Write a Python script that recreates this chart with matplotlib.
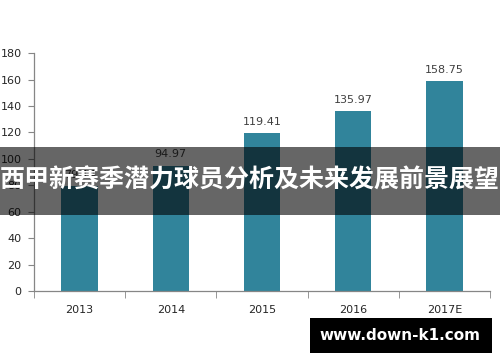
import numpy as np
import matplotlib
matplotlib.use('Agg')
import matplotlib.pyplot as plt
from matplotlib.patches import Rectangle

# data
years = ['2013', '2014', '2015', '2016', '2017E']
values = [79.14, 94.97, 119.41, 135.97, 158.75]
yticks = list(range(0, 181, 20))
title_text = '西甲新赛季潜力球员分析及未来发展前景展望'
watermark = 'www.down-k1.com'

bar_color = '#31849b'
axis_color = '#868686'

fig = plt.figure(figsize=(5, 3.62), dpi=100)
ax = fig.add_axes([0.068, 0.196, 0.912, 0.657])

x = np.arange(len(years))
ax.bar(x, values, width=0.4, color=bar_color, zorder=2)
for xi, v in zip(x, values):
    ax.text(xi, v + 5, f'{v:.2f}', ha='center', va='bottom', fontsize=8, color='#404040')

ax.set_xlim(-0.5, 4.5)
ax.set_ylim(0, 180)
ax.set_yticks(yticks)
ax.set_xticks(x)
ax.set_xticklabels(years)
ax.set_xticks(np.arange(-0.5, 5, 1), minor=True)
ax.tick_params(axis='x', which='major', length=0, pad=10, labelsize=8, labelcolor='#262626')
ax.tick_params(axis='x', which='minor', length=5, color=axis_color, direction='out')
ax.tick_params(axis='y', length=4, color=axis_color, labelsize=8, labelcolor='#262626', pad=5)

for side in ['top', 'right']:
    ax.spines[side].set_visible(False)
for side in ['left', 'bottom']:
    ax.spines[side].set_color(axis_color)
    ax.spines[side].set_linewidth(0.9)

# dark banner across the middle
fig.patches.append(Rectangle((0, 0.406), 1, 0.188, transform=fig.transFigure,
                             facecolor='black', alpha=0.6, zorder=5))
fig.text(0.5, 0.5, title_text, ha='center', va='center', color='white',
         fontsize=18, fontweight='bold', family=['Noto Sans CJK SC', 'DejaVu Sans'],
         zorder=6)

# watermark box bottom right
fig.patches.append(Rectangle((0.62, 0.025), 0.364, 0.097, transform=fig.transFigure,
                             facecolor='black', zorder=5))
fig.text(0.80, 0.0735, watermark, ha='center', va='center', color='white',
         fontsize=11, fontweight='bold', family=['DejaVu Sans'], zorder=6)

fig.savefig('out.png', dpi=100)
